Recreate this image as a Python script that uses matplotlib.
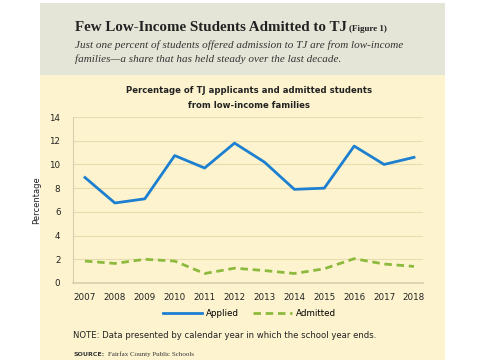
import matplotlib
matplotlib.use("Agg")
import matplotlib.pyplot as plt
from matplotlib.patches import Rectangle

years = [2007, 2008, 2009, 2010, 2011, 2012, 2013, 2014, 2015, 2016, 2017, 2018]
applied = [8.9, 6.75, 7.1, 10.75, 9.7, 11.8, 10.2, 7.9, 8.0, 11.55, 10.0, 10.6]
admitted = [1.85, 1.65, 2.0, 1.85, 0.8, 1.25, 1.05, 0.8, 1.2, 2.05, 1.6, 1.4]
yticks = [0, 2, 4, 6, 8, 10, 12, 14]

blue = "#1c7fd0"
green = "#8dba3c"
cream = "#fdf4cf"
header = "#e5e5d7"
grid = "#e9dcae"

fig = plt.figure(figsize=(4.85, 3.6), dpi=100)
fig.patch.set_facecolor("white")

# background panels
fig.patches.append(Rectangle((0.0825, 0.0), 0.835, 0.7917, transform=fig.transFigure,
                             facecolor=cream, edgecolor="none", zorder=-5))
fig.patches.append(Rectangle((0.0825, 0.7917), 0.835, 0.2, transform=fig.transFigure,
                             facecolor=header, edgecolor="none", zorder=-5))

# header text
fig.text(0.155, 0.915, "Few Low-Income Students Admitted to TJ", family="Liberation Serif",
         fontweight="bold", fontsize=10.8, color="#222222", va="baseline")
fig.text(0.72, 0.915, "(Figure 1)", family="Liberation Serif", fontweight="bold",
         fontsize=6.5, color="#222222", va="baseline")
fig.text(0.155, 0.866, "Just one percent of students offered admission to TJ are from low-income",
         family="Liberation Serif", style="italic", fontsize=8, color="#333333", va="baseline")
fig.text(0.155, 0.829, "families\u2014a share that has held steady over the last decade.",
         family="Liberation Serif", style="italic", fontsize=8, color="#333333", va="baseline")

fig.text(0.513, 0.70, "Percentage of TJ applicants and admitted students\nfrom low-income families",
         ha="center", va="baseline", fontsize=6.1, fontweight="bold", color="#222222",
         linespacing=1.8)

ax = fig.add_axes([0.1505, 0.2139, 0.7216, 0.461])
ax.set_facecolor("none")
ax.plot(years, applied, color=blue, lw=2, label="Applied")
ax.plot(years, admitted, color=green, lw=2, ls=(0, (2.7, 1.7)), label="Admitted")

ax.set_xlim(2006.6, 2018.3)
ax.set_ylim(0, 14)
ax.set_yticks(yticks)
ax.set_xticks(years)
ax.tick_params(length=0, labelsize=6.3, colors="#222222")
ax.tick_params(axis="y", pad=9)
ax.tick_params(axis="x", pad=7)
ax.yaxis.grid(True, color=grid, lw=0.8)
ax.set_axisbelow(True)
for s in ["top", "right"]:
    ax.spines[s].set_visible(False)
ax.spines["left"].set_color("#d8ceb0")
ax.spines["bottom"].set_color("#d8ceb0")
ax.spines["bottom"].set_linewidth(1.2)
ax.set_ylabel("Percentage", fontsize=6, color="#222222", labelpad=6)

fig.legend(loc="center", bbox_to_anchor=(0.515, 0.13), ncol=2, frameon=False,
           fontsize=6.3, handlelength=4.4, columnspacing=1.6, handletextpad=0.5)

fig.text(0.151, 0.061, "NOTE: Data presented by calendar year in which the school year ends.",
         fontsize=6.1, color="#222222", va="baseline")
fig.text(0.151, 0.01, "SOURCE:", fontsize=4.5, fontweight="bold", color="#333333", va="baseline")
fig.text(0.222, 0.01, "Fairfax County Public Schools", family="Liberation Serif", fontsize=5,
         color="#333333", va="baseline")

fig.savefig("out.png", dpi=100, facecolor=fig.get_facecolor())
